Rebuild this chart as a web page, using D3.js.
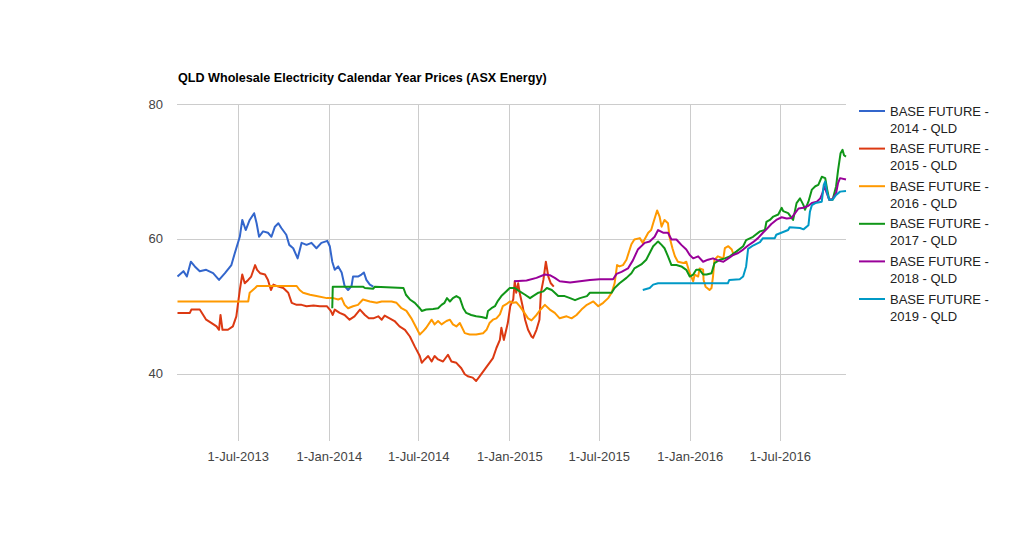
<!DOCTYPE html>
<html><head><meta charset="utf-8">
<script src="https://cdn.jsdelivr.net/npm/d3@7"></script>
<style>
html,body{margin:0;padding:0;background:#fff;}
svg{display:block;font-family:Arial,"Liberation Sans",sans-serif;}
</style></head>
<body>
<svg id="chart" width="1024" height="546"></svg>
<script>
const title = "QLD Wholesale Electricity Calendar Year Prices (ASX Energy)";
const seriesNames = ["BASE FUTURE - 2014 - QLD","BASE FUTURE - 2015 - QLD","BASE FUTURE - 2016 - QLD","BASE FUTURE - 2017 - QLD","BASE FUTURE - 2018 - QLD","BASE FUTURE - 2019 - QLD"];
const seriesColors = ["#3366cc","#dc3912","#ff9900","#109618","#990099","#0099c6"];
const xTickDates = ["2013-07-01","2014-01-01","2014-07-01","2015-01-01","2015-07-01","2016-01-01","2016-07-01"];
const yTickValues = [40,60,80];
const xDomain = ["2013-02-28","2016-11-12"];
const yDomain = [30,80];

const base2014 = [
["2013-03-01",54.4],["2013-03-13",55.2],["2013-03-20",54.4],["2013-03-28",56.6],["2013-04-05",55.9],["2013-04-15",55.2],
["2013-04-28",55.4],["2013-05-12",54.9],["2013-05-24",53.9],["2013-06-05",54.9],["2013-06-18",56.1],["2013-06-25",57.9],
["2013-07-05",60.3],["2013-07-10",62.8],["2013-07-17",61.3],["2013-07-25",62.8],["2013-08-03",63.8],["2013-08-08",62.3],
["2013-08-13",60.3],["2013-08-21",61.1],["2013-08-31",60.9],["2013-09-07",60.3],["2013-09-14",61.8],["2013-09-21",62.3],
["2013-09-27",61.6],["2013-10-07",60.6],["2013-10-13",59.1],["2013-10-21",58.6],["2013-10-30",57.1],["2013-11-07",59.4],
["2013-11-17",59.1],["2013-11-27",59.4],["2013-12-07",58.6],["2013-12-17",59.4],["2013-12-29",59.7],["2014-01-03",58.9],
["2014-01-08",56.6],["2014-01-13",55.4],["2014-01-20",55.9],["2014-01-27",55.0],["2014-02-02",53.0],["2014-02-09",52.4],
["2014-02-16",53.0],["2014-02-19",54.4],["2014-03-01",54.4],["2014-03-08",54.7],["2014-03-13",55.0],["2014-03-18",53.9],
["2014-03-25",53.2],["2014-04-01",52.9]];

const base2015 = [
["2013-03-01",49.0],["2013-03-26",49.0],["2013-03-29",49.5],["2013-04-15",49.5],["2013-04-22",48.7],["2013-04-28",48.0],
["2013-05-09",47.5],["2013-05-19",47.0],["2013-05-24",46.5],["2013-05-27",48.7],["2013-05-31",46.5],["2013-06-11",46.5],
["2013-06-21",47.0],["2013-06-28",48.5],["2013-07-05",52.4],["2013-07-10",54.7],["2013-07-15",53.4],["2013-07-22",53.9],
["2013-07-28",54.4],["2013-08-05",56.1],["2013-08-09",55.4],["2013-08-15",54.9],["2013-08-25",54.7],["2013-08-31",53.9],
["2013-09-06",52.4],["2013-09-11",53.2],["2013-09-21",52.9],["2013-10-01",52.7],["2013-10-11",52.0],["2013-10-18",50.5],
["2013-10-28",50.2],["2013-11-07",50.2],["2013-11-17",50.0],["2013-12-01",50.1],["2013-12-14",50.0],["2013-12-28",50.0],
["2014-01-05",49.3],["2014-01-09",48.7],["2014-01-13",49.5],["2014-01-23",49.0],["2014-02-02",48.7],["2014-02-12",48.0],
["2014-02-22",48.5],["2014-03-05",49.5],["2014-03-15",48.7],["2014-03-23",48.2],["2014-04-01",48.2],["2014-04-11",48.5],
["2014-04-18",48.0],["2014-04-24",48.6],["2014-05-04",48.2],["2014-05-14",47.8],["2014-05-24",47.0],["2014-06-04",46.5],
["2014-06-14",45.5],["2014-06-24",44.0],["2014-07-04",42.6],["2014-07-08",41.6],["2014-07-14",42.1],["2014-07-21",42.6],
["2014-07-28",41.8],["2014-08-03",42.6],["2014-08-10",42.1],["2014-08-20",41.8],["2014-08-30",42.8],["2014-09-06",41.8],
["2014-09-16",41.6],["2014-09-26",40.8],["2014-10-03",39.9],["2014-10-09",39.6],["2014-10-19",39.4],["2014-10-26",38.9],
["2014-11-02",39.6],["2014-11-12",40.6],["2014-11-22",41.6],["2014-11-29",42.3],["2014-12-06",43.8],["2014-12-13",45.0],
["2014-12-16",46.8],["2014-12-21",45.0],["2014-12-29",47.5],["2015-01-03",50.0],["2015-01-09",51.0],["2015-01-12",53.7],
["2015-01-15",52.0],["2015-01-19",53.4],["2015-01-22",52.0],["2015-01-28",50.0],["2015-02-02",48.0],["2015-02-08",46.5],
["2015-02-15",45.5],["2015-02-18",45.3],["2015-02-25",46.5],["2015-03-03",48.0],["2015-03-06",52.0],["2015-03-11",53.9],
["2015-03-16",56.6],["2015-03-21",54.4],["2015-03-26",53.4],["2015-04-01",52.9]];

const base2016 = [
["2013-03-01",50.7],["2013-07-22",50.7],["2013-07-25",52.0],["2013-08-05",52.7],["2013-08-09",53.0],["2013-10-28",53.0],
["2013-11-03",52.4],["2013-11-10",52.0],["2013-11-24",51.7],["2013-12-07",51.5],["2013-12-28",51.2],["2014-01-10",51.2],
["2014-01-20",51.0],["2014-01-27",51.2],["2014-02-02",50.2],["2014-02-09",49.7],["2014-02-19",50.0],["2014-03-01",50.2],
["2014-03-11",51.0],["2014-03-25",50.7],["2014-04-08",50.5],["2014-04-18",50.7],["2014-05-08",50.7],["2014-05-18",50.5],
["2014-05-28",49.7],["2014-06-07",49.3],["2014-06-17",48.2],["2014-06-27",46.8],["2014-07-04",45.8],["2014-07-11",46.3],
["2014-07-17",46.8],["2014-07-28",48.0],["2014-08-03",47.3],["2014-08-10",47.8],["2014-08-17",47.3],["2014-08-27",47.8],
["2014-09-03",48.0],["2014-09-09",47.3],["2014-09-16",47.0],["2014-09-23",47.5],["2014-10-03",46.0],["2014-10-13",45.8],
["2014-10-26",45.8],["2014-11-09",46.0],["2014-11-16",46.5],["2014-11-22",47.5],["2014-11-29",48.0],["2014-12-06",48.2],
["2014-12-13",48.8],["2014-12-19",50.0],["2014-12-26",50.3],["2015-01-02",50.7],["2015-01-09",50.5],["2015-01-15",50.6],
["2015-01-22",50.0],["2015-01-29",49.3],["2015-02-08",48.2],["2015-02-15",47.9],["2015-02-25",48.7],["2015-03-04",49.4],
["2015-03-14",50.2],["2015-03-24",49.5],["2015-04-03",49.0],["2015-04-13",48.2],["2015-04-27",48.5],["2015-05-07",48.2],
["2015-05-17",48.7],["2015-05-27",49.5],["2015-06-07",50.2],["2015-06-20",50.7],["2015-06-30",50.0],["2015-07-10",50.5],
["2015-07-20",51.2],["2015-07-27",52.0],["2015-08-02",53.4],["2015-08-07",56.1],["2015-08-12",55.9],["2015-08-19",56.1],
["2015-08-26",56.9],["2015-09-05",59.2],["2015-09-11",59.9],["2015-09-22",60.1],["2015-09-28",59.4],["2015-10-09",60.9],
["2015-10-15",61.3],["2015-10-19",62.3],["2015-10-27",64.2],["2015-11-01",63.3],["2015-11-05",61.8],["2015-11-11",62.8],
["2015-11-18",62.3],["2015-11-21",60.3],["2015-11-27",58.6],["2015-12-02",57.4],["2015-12-08",56.6],["2015-12-19",56.4],
["2015-12-25",56.6],["2016-01-01",54.9],["2016-01-08",53.7],["2016-01-11",54.7],["2016-01-18",54.4],["2016-01-21",55.6],
["2016-01-28",55.4],["2016-01-29",53.9],["2016-02-02",52.9],["2016-02-10",52.4],["2016-02-14",52.7],["2016-02-17",54.4],
["2016-02-20",56.9],["2016-02-27",57.4],["2016-03-09",57.1],["2016-03-12",58.6],["2016-03-19",58.9],["2016-03-26",58.4],
["2016-03-30",57.6]];

const base2017 = [
["2014-01-08",49.7],["2014-01-09",52.9],["2014-03-11",52.9],["2014-03-15",52.7],["2014-04-01",52.6],["2014-04-04",52.9],
["2014-04-28",52.8],["2014-06-01",52.7],["2014-06-06",51.7],["2014-06-14",51.0],["2014-06-24",50.5],["2014-07-04",49.7],
["2014-07-08",49.3],["2014-07-17",49.5],["2014-07-31",49.6],["2014-08-10",49.7],["2014-08-17",50.2],["2014-08-23",50.5],
["2014-08-28",51.2],["2014-09-03",50.7],["2014-09-09",51.2],["2014-09-16",51.5],["2014-09-23",51.2],["2014-09-30",49.7],
["2014-10-06",49.0],["2014-10-16",48.7],["2014-10-26",48.5],["2014-11-06",48.4],["2014-11-16",48.2],["2014-11-19",49.3],
["2014-11-26",49.7],["2014-12-03",50.0],["2014-12-09",50.8],["2014-12-16",51.5],["2014-12-23",52.0],["2015-01-02",52.7],
["2015-01-12",52.7],["2015-01-22",52.2],["2015-02-02",51.7],["2015-02-12",51.2],["2015-02-18",51.5],["2015-03-01",52.0],
["2015-03-11",52.2],["2015-03-18",52.7],["2015-03-28",52.4],["2015-04-03",52.0],["2015-04-10",51.5],["2015-04-23",51.5],
["2015-05-04",51.2],["2015-05-14",50.9],["2015-05-24",51.2],["2015-06-07",51.5],["2015-06-13",52.0],["2015-07-03",52.0],
["2015-07-27",52.0],["2015-08-02",52.7],["2015-08-12",53.4],["2015-08-26",54.2],["2015-09-05",54.9],["2015-09-11",55.6],
["2015-09-25",56.2],["2015-10-05",56.9],["2015-10-12",57.9],["2015-10-19",58.9],["2015-10-26",59.4],["2015-10-29",59.6],
["2015-11-05",59.1],["2015-11-11",58.6],["2015-11-18",57.4],["2015-11-25",56.1],["2015-12-05",56.1],["2015-12-15",55.9],
["2015-12-25",55.4],["2016-01-01",54.4],["2016-01-08",54.7],["2016-01-14",55.4],["2016-01-21",55.4],["2016-01-28",54.7],
["2016-02-04",54.7],["2016-02-14",54.9],["2016-02-20",56.4],["2016-03-02",56.9],["2016-03-12",57.1],["2016-03-22",57.4],
["2016-04-04",58.1],["2016-04-18",58.9],["2016-04-24",59.8],["2016-05-08",60.3],["2016-05-22",61.1],["2016-06-01",61.3],
["2016-06-04",62.5],["2016-06-11",62.8],["2016-06-18",63.3],["2016-06-28",63.6],["2016-07-05",64.6],["2016-07-08",64.1],
["2016-07-18",63.8],["2016-07-25",63.1],["2016-07-28",62.8],["2016-08-04",65.3],["2016-08-11",66.0],["2016-08-18",65.0],
["2016-08-21",64.3],["2016-08-28",65.5],["2016-09-04",67.3],["2016-09-11",67.8],["2016-09-17",68.0],["2016-09-24",69.2],
["2016-10-01",69.0],["2016-10-05",67.3],["2016-10-09",65.8],["2016-10-16",65.8],["2016-10-23",67.8],["2016-10-27",70.2],
["2016-11-01",72.7],["2016-11-05",73.2],["2016-11-08",72.4],["2016-11-12",72.2]];

const base2018 = [
["2015-01-11",53.7],["2015-02-05",53.8],["2015-02-25",54.2],["2015-03-14",54.7],["2015-03-24",54.6],["2015-04-03",54.2],
["2015-04-13",53.7],["2015-05-04",53.5],["2015-05-24",53.7],["2015-06-13",53.9],["2015-07-03",54.0],["2015-07-30",54.0],
["2015-08-06",54.8],["2015-08-16",55.1],["2015-08-29",55.6],["2015-09-08",56.8],["2015-09-18",58.4],["2015-10-02",59.4],
["2015-10-12",59.6],["2015-10-22",60.3],["2015-10-29",61.3],["2015-11-08",60.9],["2015-11-18",60.9],["2015-11-25",59.9],
["2015-12-05",59.9],["2015-12-15",59.1],["2015-12-25",58.4],["2016-01-01",57.6],["2016-01-08",57.1],["2016-01-18",57.4],
["2016-01-28",56.6],["2016-02-07",56.9],["2016-02-17",57.1],["2016-02-27",56.8],["2016-03-09",56.6],["2016-03-19",57.1],
["2016-03-29",57.6],["2016-04-08",57.9],["2016-04-18",58.4],["2016-04-28",59.0],["2016-05-08",59.5],["2016-05-18",60.1],
["2016-05-28",60.9],["2016-06-04",61.4],["2016-06-14",62.2],["2016-06-24",62.8],["2016-07-05",63.2],["2016-07-15",63.0],
["2016-07-25",63.1],["2016-08-01",63.8],["2016-08-08",64.5],["2016-08-18",64.6],["2016-08-28",64.9],["2016-09-04",65.3],
["2016-09-14",65.5],["2016-09-21",66.0],["2016-09-25",66.7],["2016-09-29",67.8],["2016-10-03",67.0],["2016-10-09",65.8],
["2016-10-16",65.9],["2016-10-23",66.8],["2016-10-27",68.3],["2016-10-31",69.0],["2016-11-12",68.8]];

const base2019 = [
["2015-09-28",52.4],["2015-10-12",52.7],["2015-10-19",53.2],["2015-10-29",53.4],["2016-03-18",53.4],["2016-03-21",53.9],
["2016-04-11",54.0],["2016-04-18",54.4],["2016-04-24",55.9],["2016-04-28",58.5],["2016-05-08",59.0],["2016-05-22",59.5],
["2016-05-28",60.1],["2016-06-21",60.1],["2016-06-24",60.6],["2016-07-18",61.3],["2016-07-21",61.7],["2016-08-11",61.6],
["2016-08-18",61.4],["2016-08-28",62.0],["2016-08-31",64.0],["2016-09-04",65.0],["2016-09-11",65.3],["2016-09-24",65.5],
["2016-09-28",68.0],["2016-10-01",68.5],["2016-10-05",66.8],["2016-10-09",65.8],["2016-10-16",65.8],["2016-10-23",66.5],
["2016-10-31",67.0],["2016-11-12",67.1]];

const seriesData = [base2014, base2015, base2016, base2017, base2018, base2019];

const parse = d3.utcParse("%Y-%m-%d");
const svg = d3.select("#chart");
const plot = {left:177, right:846, top:104, bottom:441};

const x = d3.scaleUtc().domain(xDomain.map(parse)).range([plot.left, plot.right]);
const y = d3.scaleLinear().domain(yDomain).range([plot.bottom, plot.top]);

// title
svg.append("text").attr("x", 178).attr("y", 82)
  .attr("font-size", 12.6).attr("font-weight", "bold").attr("fill", "#000")
  .text(title);

// horizontal gridlines + y labels
const yAxis = d3.axisLeft(y).tickValues(yTickValues).tickSize(-(plot.right - plot.left)).tickPadding(14).tickFormat(d3.format("d"));
const gy = svg.append("g").attr("transform", `translate(${plot.left},0)`).call(yAxis);
gy.select(".domain").remove();
gy.selectAll(".tick line").attr("stroke", "#cccccc").attr("shape-rendering", "crispEdges");
gy.selectAll(".tick text").attr("font-size", 13).attr("fill", "#444").attr("font-family", "Arial, 'Liberation Sans', sans-serif");

// vertical gridlines + x labels
const xAxis = d3.axisBottom(x).tickValues(xTickDates.map(parse))
  .tickSize(-(plot.bottom - plot.top)).tickPadding(11).tickFormat(d3.utcFormat("%-d-%b-%Y"));
const gx = svg.append("g").attr("transform", `translate(0,${plot.bottom})`).call(xAxis);
gx.select(".domain").remove();
gx.selectAll(".tick line").attr("stroke", "#cccccc").attr("shape-rendering", "crispEdges");
gx.selectAll(".tick text").attr("font-size", 13).attr("fill", "#444").attr("font-family", "Arial, 'Liberation Sans', sans-serif");

// lines
const line = d3.line().x(d => x(parse(d[0]))).y(d => y(d[1]));
seriesData.forEach((data, i) => {
  svg.append("path").datum(data)
    .attr("fill", "none").attr("stroke", seriesColors[i]).attr("stroke-width", 2)
    .attr("stroke-linejoin", "round")
    .attr("d", line);
});

// legend
const legend = svg.append("g").attr("transform", "translate(859,111)");
seriesNames.forEach((name, i) => {
  const g = legend.append("g").attr("transform", `translate(0,${i * 37.6})`);
  g.append("line").attr("x1", 0).attr("x2", 26).attr("y1", 0).attr("y2", 0)
    .attr("stroke", seriesColors[i]).attr("stroke-width", 2);
  const parts = name.split(" - ");
  const l1 = parts[0] + " -";
  const l2 = parts.slice(1).join(" - ");
  const t = g.append("text").attr("x", 31).attr("y", 0).attr("font-size", 13).attr("fill", "#222");
  t.append("tspan").attr("x", 31).attr("dy", "0.35em").text(l1);
  t.append("tspan").attr("x", 31).attr("dy", 17).text(l2);
});
</script>
</body></html>
